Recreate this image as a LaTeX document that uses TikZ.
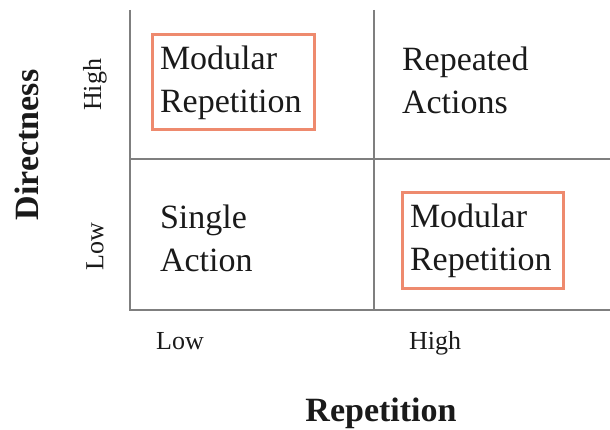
\documentclass[tikz,border=0pt]{standalone}
\usepackage{fontspec}
\setmainfont{Liberation Serif}
\definecolor{gridgray}{HTML}{7F7F7F}
\definecolor{salmon}{HTML}{EE8A6E}
\definecolor{ink}{HTML}{1A1A1A}
\begin{document}
\begin{tikzpicture}[x=1pt,y=-1pt,
  grid/.style={draw=gridgray,line width=1.5pt},
  cell/.style={text=ink,align=left,inner xsep=8pt,inner ysep=0pt,
    font=\fontsize{34}{43}\selectfont,minimum height=95pt},
  hl/.style={cell,draw=salmon,line width=3pt},
  tick/.style={text=ink,font=\fontsize{26}{30}\selectfont,inner sep=0pt},
  axis/.style={text=ink,font=\fontsize{34}{40}\selectfont\bfseries,inner sep=0pt}]
\useasboundingbox (0,0) rectangle (610,430);
% grid
\coordinate (tl) at (130,10);
\coordinate (bl) at (130,310);
\coordinate (br) at (610,310);
\coordinate (tm) at (374,10);
\coordinate (bm) at (374,310);
\coordinate (ml) at (130,159);
\coordinate (mr) at (610,159);
\draw[grid] (tl) -- (bl) -- (br);
\draw[grid] (tm) -- (bm);
\draw[grid] (ml) -- (mr);
% cells
\node[hl,minimum width=162pt,text width=146pt] (mr1) at (233,82.5) {Modular\\Repetition};
\node[cell,minimum width=162pt,text width=146pt] (ra) at (475,80.5) {Repeated\\Actions};
\node[cell,minimum width=162pt,text width=146pt] (sa) at (233,238.5) {Single\\Action};
\node[hl,minimum width=161pt,text width=145pt] (mr2) at (482.5,240.5) {Modular\\Repetition};
% tick labels
\node[tick,rotate=90] (yhigh) at (95,85) {High};
\node[tick,rotate=90] (ylow) at (95,247) {Low};
\node[tick,anchor=base] (xlow) at (180,349) {Low};
\node[tick,anchor=base] (xhigh) at (435,349) {High};
% axis titles
\node[axis,rotate=90] (ytitle) at (27,145) {Directness};
\node[axis,anchor=base] (xtitle) at (381,421) {Repetition};
\end{tikzpicture}
\end{document}
